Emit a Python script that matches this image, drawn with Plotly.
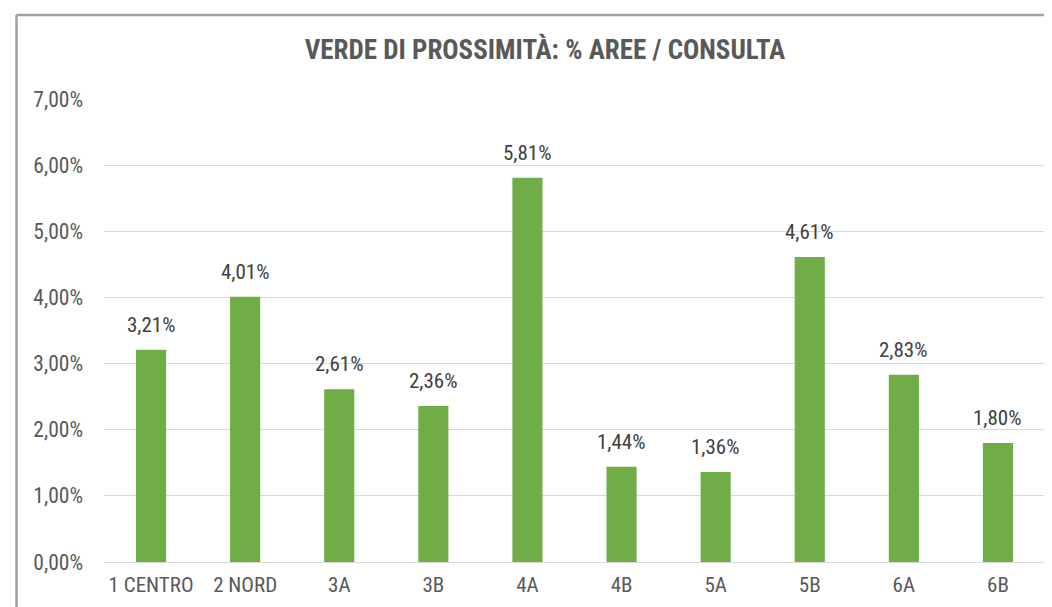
import plotly.graph_objects as go

categories = ["1 CENTRO", "2 NORD", "3A", "3B", "4A", "4B", "5A", "5B", "6A", "6B"]
values = [0.0321, 0.0401, 0.0261, 0.0236, 0.0581, 0.0144, 0.0136, 0.0461, 0.0283, 0.0180]

FONT = "Liberation Sans Narrow, Arial Narrow, Roboto Condensed, sans-serif"
W, H = 1052, 607
OFF = 8  # page body margin
ML, MR, MT, MB = 104 - OFF, W - (1045 - OFF), 99 - OFF, H - (562 - OFF)

fig = go.Figure(go.Bar(
    x=categories, y=values,
    marker=dict(color="#70AD47", line=dict(width=0)),
    width=0.32,
    cliponaxis=False,
    hovertemplate="%{x}: %{y:.2%}<extra></extra>",
))

for c, v in zip(categories, values):
    fig.add_annotation(x=c, y=v, xref="x", yref="y",
                       text=f"{v * 100:.2f}%".replace(".", ","),
                       showarrow=False, yanchor="middle", yshift=25,
                       font=dict(family=FONT, size=21, color="#404040"))

pw = W - ML - MR
ph = H - MT - MB
x_left = (16.5 - OFF - ML) / pw
y_top = (H - MB - (15 - OFF)) / ph

fig.update_layout(
    width=W, height=H,
    margin=dict(l=ML, r=MR, t=MT, b=MB, autoexpand=False),
    paper_bgcolor="white", plot_bgcolor="white",
    separators=",.",
    showlegend=False,
    title=dict(text="<b>VERDE DI PROSSIMITÀ: % AREE / CONSULTA</b>",
               x=(545 - OFF) / W, xanchor="center", y=1 - (50 - OFF) / H, yanchor="middle",
               font=dict(family=FONT, size=27, color="#595959")),
    xaxis=dict(showgrid=False, showline=False, ticks="", tickangle=0, automargin=False,
               tickfont=dict(family=FONT, size=21, color="#595959"),
               ticklabelstandoff=8),
    yaxis=dict(range=[0, 0.07], dtick=0.01, tickformat=".2%", automargin=False,
               showgrid=True, gridcolor="#d9d9d9", gridwidth=1.3,
               zeroline=True, zerolinecolor="#d9d9d9", zerolinewidth=1.3,
               showline=False, ticks="",
               tickfont=dict(family=FONT, size=21.5, color="#595959"),
               ticklabelstandoff=20),
    shapes=[
        dict(type="line", xref="paper", yref="paper", x0=x_left, x1=x_left,
             y0=y_top, y1=-0.2, line=dict(color="#a0a0a0", width=2.5)),
        dict(type="line", xref="paper", yref="paper", x0=x_left, x1=1.1,
             y0=y_top, y1=y_top, line=dict(color="#a0a0a0", width=2.5)),
    ],
)

fig.write_html("out.html")
